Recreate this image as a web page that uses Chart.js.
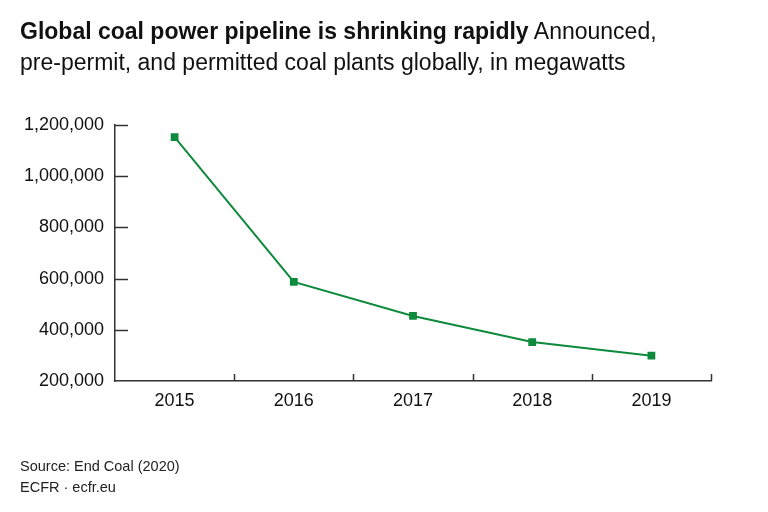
<!DOCTYPE html>
<html>
<head>
<meta charset="utf-8">
<script src="https://cdn.jsdelivr.net/npm/chart.js@4"></script>
<style>
  html, body { margin: 0; padding: 0; background: #fff; }
  body { width: 768px; height: 512px; position: relative; overflow: hidden; font-family: 'Liberation Sans', Arial, sans-serif; color: #111; }
  #title { position: absolute; left: 20px; top: 16px; width: 660px; font-size: 23px; line-height: 31px; }
  #title b { font-weight: bold; }
  #source { position: absolute; left: 20px; top: 456px; font-size: 14.5px; line-height: 21px; color: #222; }
  #chart { position: absolute; left: 0; top: 0; }
</style>
</head>
<body>
<canvas id="chart" width="768" height="512"></canvas>
<div id="title"><b>Global coal power pipeline is shrinking rapidly</b> Announced, pre-permit, and permitted coal plants globally, in megawatts</div>
<div id="source">Source: End Coal (2020)<br>ECFR · ecfr.eu</div>
<script>
/* eslint-env browser */

// ------------------------
// Data
// ------------------------
const years = ['2015', '2016', '2017', '2018', '2019']
const megawatts = [1153000, 587000, 454000, 352000, 299000]
const yTicks = [200000, 400000, 600000, 800000, 1000000, 1200000]

const green = '#0e8a3c'
const axisColor = '#333'

// Inward tick marks, drawn from the scales
const innerTicks = {
  id: 'innerTicks',
  afterDraw (chart) {
    const { ctx, chartArea, scales } = chart
    const x = scales.x
    const y = scales.y
    ctx.save()
    ctx.strokeStyle = axisColor
    ctx.lineWidth = 1.5

    yTicks.slice(1).forEach((v) => {
      const py = Math.round(y.getPixelForValue(v)) + 0.5
      ctx.beginPath()
      ctx.moveTo(chartArea.left, py)
      ctx.lineTo(chartArea.left + 13, py)
      ctx.stroke()
    })

    const step = x.getPixelForValue(1) - x.getPixelForValue(0)
    years.forEach((_y, i) => {
      const px = Math.round(x.getPixelForValue(i) + step / 2) + 0.5
      ctx.beginPath()
      ctx.moveTo(px, chartArea.bottom)
      ctx.lineTo(px, chartArea.bottom - 7)
      ctx.stroke()
    })
    ctx.restore()
  },
}

new Chart(document.querySelector('#chart'), {
  type: 'line',

  data: {
    labels: years,
    datasets: [
      {
        data: megawatts,
        borderColor: green,
        backgroundColor: green,
        borderWidth: 2,
        pointStyle: 'rect',
        pointRadius: 5.5,
        pointBorderWidth: 0,
        tension: 0,
      },
    ],
  },

  options: {
    responsive: false,
    animation: false,
    layout: {
      padding: { top: 125, right: 57, bottom: 0, left: 0 },
    },
    plugins: {
      legend: { display: false },
      tooltip: { enabled: false },
    },
    scales: {
      x: {
        offset: true,
        grid: { display: false, drawTicks: false },
        border: { color: axisColor, width: 1.5 },
        ticks: {
          color: '#111',
          padding: 9,
          font: { family: 'Liberation Sans', size: 18 },
        },
        afterFit (scale) {
          scale.height = 131
        },
      },
      y: {
        min: 200000,
        max: 1200000,
        afterBuildTicks (scale) {
          scale.ticks = yTicks.map((value) => ({ value }))
        },
        grid: { display: false, drawTicks: false },
        border: { color: axisColor, width: 1.5 },
        ticks: {
          color: '#111',
          padding: 11,
          font: { family: 'Liberation Sans', size: 18 },
          callback: (v) => v.toLocaleString('en-US'),
        },
        afterFit (scale) {
          scale.width = 115
        },
      },
    },
  },

  plugins: [innerTicks],
})
</script>
</body>
</html>
